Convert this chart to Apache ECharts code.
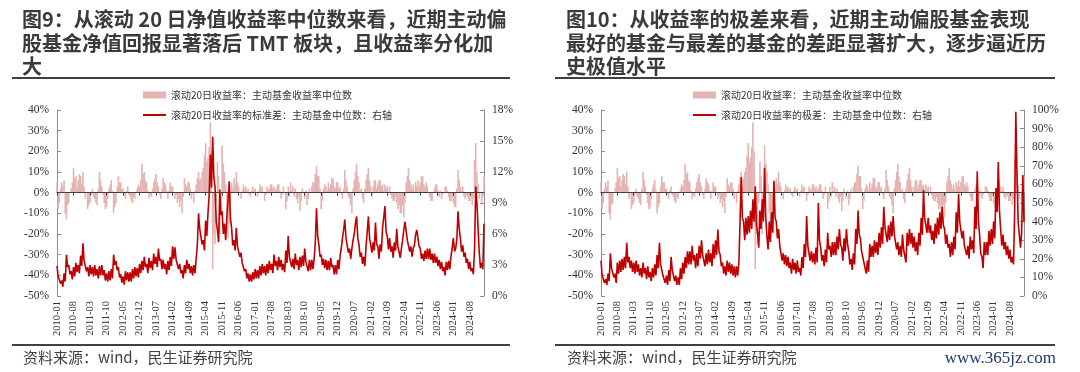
<!DOCTYPE html>
<html><head><meta charset="utf-8">
<script src="https://cdn.jsdelivr.net/npm/echarts@6/dist/echarts.min.js"></script>
<style>html,body{margin:0;padding:0;background:#fff}#c{width:1080px;height:372px}</style>
</head><body><div id="c"></div>
<script>
// ---------------- DATA ----------------
const START_YEAR = 2010;          // semimonthly points, 2010-01 .. 2025-02
const POINT_COUNT = 363;

const NAME_MEDIAN = '滚动20日收益率：主动基金收益率中位数';
const NAME_STD = '滚动20日收益率的标准差：主动基金中位数：右轴';
const NAME_RANGE = '滚动20日收益率的极差：主动基金中位数：右轴';

// Rolling 20-day return, median of active funds (%), left axis
const medianReturn = [
  5,-8, -5,2, 5,3, 6,-10, -13,-6, -5,0, 2,5, 12,7, 8,3, 6,9, 8,4, 10,3,
  -3,0, -8,-6, -5,-1, 2,-2, -3,-5, -6,2, 10,6, 3,-1, -5,-8, -7,-3, 2,4, 6,1,
  -10,-7, -5,3, 8,5, 5,2, 2,-1, -3,1, 3,-1, -2,-4, -5,-2, -3,0, 2,4, 3,6,
  14,9, 10,6, 5,1, -3,-1, -2,2, 5,7, 9,5, 3,-1, -3,2, 7,5, 4,1, -3,1,
  5,3, 3,0, -3,-1, -5,-3, -7,-4, -10,-2, 7,4, 3,5, 5,2, -3,0, -5,1, 4,7,
  10,6, 7,10, 12,18, 24,15, 17,22, 34,20, -37,-20, -25,-5, 15,8, -20,-8, 23,14, 10,4,
  -10,-22, -15,-5, 5,2, 7,4, 10,5, 3,0, -3,1, 4,2, 3,1, 2,-1, -2,1, 3,1,
  2,0, -2,1, 4,2, 3,0, -4,-1, 3,1, 2,4, 4,2, 3,1, 2,4, 4,1, -3,-1,
  3,0, -8,-4, 3,-2, 5,1, 3,-2, 2,-3, -5,-2, -9,-4, 2,0, -3,1, -6,-3, 2,0,
  3,5, 5,9, 13,8, 8,2, -8,-4, 2,4, 3,1, 5,2, 4,7, 7,3, 2,5, 5,2,
  3,-1, -3,2, 11,6, 3,-2, -3,-6, -10,2, 6,10, 14,8, 5,1, 2,-3, -5,2, 6,9,
  12,6, 3,-2, 3,6, 6,2, 4,6, 6,3, 4,1, 4,2, 3,0, 3,-1, -3,-4, -4,-2,
  -5,-8, -6,-10, -10,-6, -12,-5, 5,8, 12,6, 4,2, 4,1, 5,3, 6,3, 5,8, 8,4,
  3,5, 3,0, -2,-4, -4,0, 2,4, 4,1, -2,1, -3,-1, 0,3, 3,1, -2,-4, -4,-2,
  -5,-7, -7,2, 11,6, 3,1, 3,-2, -3,-1, -2,-4, -4,-2, -6,-3, 16,24, 10,4, -3,0,
  -5,-2, 8
];

// Std dev of rolling 20-day return (%), right axis of chart 9
const stdDev = [
  2.9,1.9, 2.0,1.2, 1.5,0.9, 2.2,1.4, 4.0,2.8, 3.0,2.1, 2.4,1.6, 2.8,1.9, 3.2,2.3, 3.0,2.2, 3.9,2.9, 5.1,3.4,
  3.4,2.4, 2.8,1.9, 3.0,2.1, 2.8,1.9, 3.0,2.0, 2.6,1.7, 2.9,2.0, 3.0,2.0, 2.5,1.5, 2.2,1.4, 2.4,1.5, 2.6,1.7,
  4.0,3.0, 3.4,2.5, 2.8,1.8, 2.1,1.3, 1.9,1.1, 2.4,1.5, 2.3,1.4, 2.3,1.4, 2.6,1.7, 2.8,1.9, 2.7,1.8, 3.1,2.2,
  3.4,2.5, 3.8,2.8, 3.1,2.2, 3.7,2.7, 3.4,2.5, 4.1,3.1, 3.8,2.8, 4.6,3.4, 3.6,2.6, 3.5,2.6, 3.1,2.1, 3.4,2.5,
  3.8,2.9, 4.8,3.6, 4.7,3.5, 3.6,2.6, 3.1,2.2, 2.5,1.7, 3.0,2.2, 3.5,2.6, 3.1,2.2, 2.9,2.0, 3.0,2.2, 3.6,5.0,
  8.0,6.5, 6.4,5.0, 5.4,4.4, 7.3,5.8, 8.0,9.8, 13.7,10.5, 15.4,11.5, 10.5,7.2, 6.4,5.2, 10.3,7.8, 8.2,6.0, 7.0,5.4,
  7.6,9.2, 11.1,7.6, 6.6,4.9, 5.4,4.4, 6.6,4.8, 4.8,3.8, 4.2,3.2, 3.3,2.4, 2.6,1.7, 2.2,1.4, 2.1,1.4, 2.3,1.6,
  2.6,1.7, 2.5,1.7, 2.9,2.0, 3.1,2.2, 2.9,2.0, 3.1,2.2, 3.4,2.5, 3.1,2.2, 4.0,2.9, 3.4,2.5, 3.8,2.8, 3.5,2.5,
  3.1,2.3, 4.4,3.2, 5.8,3.8, 3.7,2.8, 3.6,2.6, 4.1,3.0, 3.5,2.5, 3.8,2.8, 3.9,2.9, 4.6,3.3, 3.4,2.4, 3.5,2.5,
  3.5,2.6, 3.6,5.2, 8.5,5.8, 5.0,3.8, 4.0,3.0, 3.6,2.7, 3.5,2.5, 3.4,2.5, 3.7,2.8, 3.0,2.1, 3.0,2.1, 3.5,2.6,
  3.9,4.6, 5.6,6.4, 7.4,5.6, 5.6,4.2, 4.6,3.6, 4.6,5.4, 6.0,7.0, 7.7,5.6, 5.0,3.8, 4.2,3.1, 3.8,2.9, 4.8,6.2,
  7.7,5.6, 5.6,4.2, 5.2,4.4, 7.1,5.0, 4.8,3.6, 5.0,4.3, 6.6,7.6, 8.7,6.2, 5.8,4.5, 5.6,4.3, 4.8,3.7, 5.2,4.4,
  6.5,4.8, 4.8,3.7, 4.6,5.4, 6.4,7.2, 7.1,5.4, 5.5,4.3, 4.8,3.8, 4.6,4.9, 5.9,6.4, 6.5,4.8, 4.6,3.6, 4.1,3.4,
  4.4,3.6, 4.6,3.6, 4.6,3.5, 4.1,3.2, 4.1,3.2, 3.8,2.9, 3.5,2.6, 3.3,2.4, 2.8,2.0, 3.3,2.5, 3.4,2.6, 3.8,4.6,
  5.6,4.3, 4.6,5.6, 8.2,6.5, 5.6,4.3, 4.9,3.8, 4.2,3.2, 3.6,2.6, 3.3,2.4, 2.7,2.1, 4.6,10.6, 9.0,6.5, 4.2,2.7,
  3.2,2.6, 7.0
];

// Range (max - min) of rolling 20-day return (%), right axis of chart 10
const rangeVal = [
  19,11, 12,7, 9,6, 12,8, 23,15, 16,10, 12,7, 18,12, 19,13, 20,14, 21,15, 28.6,18,
  21,15, 19,13, 18,12, 19,13, 17,11, 15,10, 18,12, 15,9, 16,10, 13,8, 15,10, 17,11,
  22,15, 28.6,17, 17,11, 12,7, 11,6, 14,8, 21,14, 14,8, 11,6, 10,6, 15,9, 18,12,
  21,15, 24,17, 24,17, 27,19, 22,15, 23,16, 27,20, 30,22, 22,16, 23,17, 25,18, 23,16,
  28,20, 30,22, 35.7,24, 22,16, 18,12, 16,11, 19,13, 18,12, 17,11, 16,10, 16,11, 18,40,
  64,42, 40,30, 42,33, 43,34, 46,36, 52,40, 59,38, 34,26, 46,36, 52,40, 69,42, 32,25,
  40,29, 45,34, 62,42, 40,31, 36,27, 26,19, 23,17, 22,16, 21,15, 18,12, 20,14, 18,12,
  19,13, 15,11, 21,15, 28,21, 43,27, 26,19, 24,18, 23,17, 26,18, 50,30, 26,19, 22,16,
  25,18, 34,25, 27,21, 29,22, 29,22, 32,25, 36,28, 26,19, 31,24, 36,28, 24,17, 20,14,
  23,17, 36,28, 46,33, 31,24, 25,18, 17,12, 19,13, 28,21, 27,21, 30,23, 29,22, 34,26,
  37,28, 48,37, 38,29, 38,30, 40,32, 43,33, 32,25, 29,22, 27,21, 33,25, 25,18, 34,27,
  36,28, 34,26, 32,24, 29,22, 34,27, 42,33, 57,42, 43,34, 42,34, 38,30, 35,28, 39,31,
  42,33, 45,36, 48,38, 36,28, 33,26, 28,21, 29,22, 32,25, 45,34, 55,40, 40,31, 35,27,
  28,22, 27,20, 32,25, 30,23, 48,36, 67,40, 33,23, 21,15, 29,22, 29,22, 35,27, 36,28,
  40,31, 58,45, 72,46, 36,27, 33,25, 29,22, 27,20, 25,18, 21,17, 45,99, 66,40, 33,26,
  34,65, 40
];

const TITLE_9 = '图9：从滚动 20 日净值收益率中位数来看，近期主动偏\n股基金净值回报显著落后 TMT 板块，且收益率分化加\n大';
const TITLE_10 = '图10：从收益率的极差来看，近期主动偏股基金表现\n最好的基金与最差的基金的差距显著扩大，逐步逼近历\n史极值水平';
const SOURCE_TEXT = '资料来源：wind，民生证券研究院';
const WATERMARK = 'www.365jz.com';

// categories: two points per month
const categories = [];
for (let i = 0; i < POINT_COUNT; i++) {
  const m = Math.floor(i / 2);
  const y = START_YEAR + Math.floor(m / 12);
  const mo = (m % 12) + 1;
  categories.push(y + '-' + (mo < 10 ? '0' + mo : mo) + (i % 2 ? '-16' : '-01'));
}

// ---------------- STYLE / LAYOUT ----------------
const serif = 'Liberation Serif';
const cjk = 'Noto Sans CJK SC';
const PINK = '#E4B4B3';
const RED = '#C00000';

function xAxesFor(gridIndex, zeroAxisIndex) {
  return [{
    type: 'category', gridIndex, data: categories, boundaryGap: false, z: 3,
    axisLine: { show: true, onZero: true, onZeroAxisIndex: zeroAxisIndex, lineStyle: { color: '#404040', width: 1 } },
    axisTick: { show: true, interval: 13, length: 3, lineStyle: { color: '#404040' } },
    axisLabel: { show: false }, splitLine: { show: false }
  }, {
    type: 'category', gridIndex, data: categories, boundaryGap: false, position: 'bottom',
    axisLine: { show: false, onZero: false }, axisTick: { show: false },
    axisLabel: { show: true, interval: 13, rotate: 90, margin: 5,
      formatter: v => '{s|' + v.slice(0, 7) + '}',
      rich: { s: { fontFamily: serif, fontSize: 10.5, color: '#333' } } },
    splitLine: { show: false }
  }];
}
function yAxisFor(gridIndex, position, min, max, interval) {
  return {
    type: 'value', gridIndex, position, min, max, interval,
    axisLine: { show: true, onZero: false, lineStyle: { color: '#8c8c8c' } },
    axisTick: { show: true, inside: true, length: 4, lineStyle: { color: '#8c8c8c' } },
    axisLabel: { margin: 8, formatter: v => '{s|' + v + '%}',
      rich: { s: { fontFamily: serif, fontSize: 11.5, color: '#333' } } },
    splitLine: { show: false }
  };
}
const legendText = { fontFamily: cjk, fontSize: 10, color: '#333', lineHeight: 14 };
const hiddenSymbol = { color: 'rgba(0,0,0,0)', borderColor: 'rgba(0,0,0,0)', borderWidth: 0 };

const option = {
  animation: false,
  backgroundColor: '#fff',
  title: [
    { text: TITLE_9, left: 22, top: 8, padding: 0,
      textStyle: { fontFamily: cjk, fontSize: 20, fontWeight: 'bold', color: '#3a3a3a', lineHeight: 23.5 } },
    { text: TITLE_10, left: 566, top: 8, padding: 0,
      textStyle: { fontFamily: cjk, fontSize: 20, fontWeight: 'bold', color: '#3a3a3a', lineHeight: 23.5 } }
  ],
  legend: [
    { left: 142, top: 88, orient: 'vertical', itemWidth: 23, itemHeight: 7, itemGap: 6, padding: 0,
      textStyle: legendText,
      data: [{ name: NAME_MEDIAN, icon: 'rect' }, { name: NAME_STD, itemStyle: hiddenSymbol }] },
    { left: 692, top: 88, orient: 'vertical', itemWidth: 23, itemHeight: 7, itemGap: 6, padding: 0,
      textStyle: legendText,
      data: [{ name: NAME_MEDIAN, icon: 'rect' }, { name: NAME_RANGE, itemStyle: hiddenSymbol }] }
  ],
  grid: [
    { left: 57, top: 110, width: 427, height: 186 },
    { left: 601, top: 110, width: 423, height: 186 }
  ],
  xAxis: [...xAxesFor(0, 0), ...xAxesFor(1, 2)],
  yAxis: [
    yAxisFor(0, 'left', -50, 40, 10),
    yAxisFor(0, 'right', 0, 18, 3),
    yAxisFor(1, 'left', -50, 40, 10),
    yAxisFor(1, 'right', 0, 100, 10)
  ],
  series: [
    { name: NAME_MEDIAN, type: 'bar', xAxisIndex: 0, yAxisIndex: 0, data: medianReturn,
      barWidth: 1.6, itemStyle: { color: PINK } },
    { name: NAME_STD, type: 'line', xAxisIndex: 0, yAxisIndex: 1, data: stdDev,
      symbol: 'none', showSymbol: false, lineStyle: { color: RED, width: 1.6 }, itemStyle: { color: RED }, z: 4 },
    { name: NAME_MEDIAN, type: 'bar', xAxisIndex: 2, yAxisIndex: 2, data: medianReturn,
      barWidth: 1.6, itemStyle: { color: PINK } },
    { name: NAME_RANGE, type: 'line', xAxisIndex: 2, yAxisIndex: 3, data: rangeVal,
      symbol: 'none', showSymbol: false, lineStyle: { color: RED, width: 1.6 }, itemStyle: { color: RED }, z: 4 }
  ],
  graphic: [
    { type: 'rect', shape: { x: 12, y: 77, width: 498, height: 2 }, style: { fill: '#404040' } },
    { type: 'rect', shape: { x: 555, y: 77, width: 500, height: 2 }, style: { fill: '#404040' } },
    { type: 'rect', shape: { x: 12, y: 344, width: 498, height: 2 }, style: { fill: '#404040' } },
    { type: 'rect', shape: { x: 555, y: 344, width: 500, height: 2 }, style: { fill: '#404040' } },
    { type: 'text', left: 23, top: 350, style: { text: SOURCE_TEXT, fontFamily: cjk, fontSize: 15, fill: '#404040' } },
    { type: 'text', left: 567, top: 350, style: { text: SOURCE_TEXT, fontFamily: cjk, fontSize: 15, fill: '#404040' } },
    { type: 'text', right: 24, top: 350, style: { text: WATERMARK, fontFamily: serif, fontSize: 17, fill: '#1c3a72' } }
  ]
};

const chart = echarts.init(document.getElementById('c'), null, { renderer: 'canvas' });
chart.setOption(option);
</script>
</body></html>
